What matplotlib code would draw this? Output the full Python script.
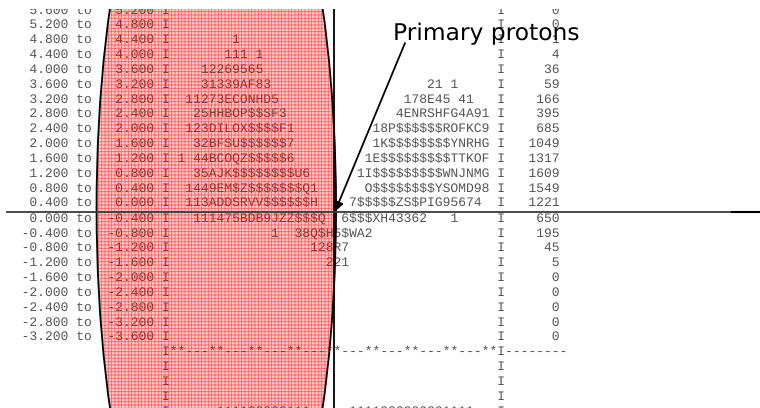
import matplotlib.pyplot as plt
from matplotlib.patches import Ellipse

plt.rcParams['hatch.linewidth'] = 0.6
plt.rcParams['text.parse_math'] = False
plt.rcParams['text.hinting'] = 'no_hinting'

# histogram printout: bin edges, character histogram (start column, text), counts
bin_from = [5.6, 5.2, 4.8, 4.4, 4.0, 3.6, 3.2, 2.8, 2.4, 2.0, 1.6, 1.2, 0.8, 0.4,
            0.0, -0.4, -0.8, -1.2, -1.6, -2.0, -2.4, -2.8, -3.2]
bin_to = [5.2, 4.8, 4.4, 4.0, 3.6, 3.2, 2.8, 2.4, 2.0, 1.6, 1.2, 0.8, 0.4, 0.0,
          -0.4, -0.8, -1.2, -1.6, -2.0, -2.4, -2.8, -3.2, -3.6]
counts = [0, 0, 1, 4, 36, 59, 166, 395, 685, 1049, 1317, 1609, 1549, 1221,
          650, 195, 45, 5, 0, 0, 0, 0, 0]
hist_rows = [
    [],
    [],
    [(8, "1")],
    [(7, "111 1")],
    [(4, "12269565")],
    [(4, "31339AF83"), (33, "21 1")],
    [(2, "11273ECONHD5"), (30, "178E45 41")],
    [(3, "25HHBOP$$SF3"), (29, "4ENRSHFG4A91")],
    [(2, "123DILOX$$$$F1"), (26, "18P$$$$$$ROFKC9")],
    [(3, "32BFSU$$$$$$7"), (26, "1K$$$$$$$$YNRHG")],
    [(1, "1 44BCOQZ$$$$$6"), (25, "1E$$$$$$$$$TTKOF")],
    [(3, "35AJK$$$$$$$$U6"), (24, "1I$$$$$$$$$WNJNMG")],
    [(2, "1449EM$Z$$$$$$$Q1"), (25, "O$$$$$$$$YSOMD98")],
    [(2, "113ADDSRVV$$$$$$H"), (23, "7$$$$$ZS$PIG95674")],
    [(3, "111475BDB9JZZ$$$Q"), (22, "6$$$XH43362   1")],
    [(13, "1  38Q$H5$WA2")],
    [(18, "128R7")],
    [(20, "221")],
    [], [], [], [], [],
]
next_block_row = [(6, "111122222111"), (23, "1111222222221111")]
label = "Primary protons"

WIDTH = 42


def fill(pairs):
    row = [" "] * WIDTH
    for col, txt in pairs:
        for i, ch in enumerate(txt):
            row[col + i] = ch
    return "".join(row)


lines = []
for lo, hi, h, c in zip(bin_from, bin_to, hist_rows, counts):
    lines.append(f"{lo:8.3f} to{hi:8.3f} I{fill(h)}I{c:7d}")
lines.append(" " * 20 + "I" + "**---" * 8 + "**" + "I" + "-" * 8)
for _ in range(3):
    lines.append(" " * 20 + "I" + " " * WIDTH + "I")
lines.append(" " * 20 + "I" + fill(next_block_row) + "I")

fig = plt.figure(figsize=(7.6, 4.08), dpi=100)

# the printout picture, clipped at its top edge
pic = fig.add_axes([0, 0, 1, 399.5 / 408])
pic.set_xlim(0, 760)
pic.set_ylim(408, 8.5)
pic.axis('off')

row_h = 14.857
for i, s in enumerate(lines):
    pic.text(6.4, 13.4 + i * row_h, s, family='Liberation Mono', fontsize=9.384,
             color='#555555', ha='left', va='baseline', clip_on=True, zorder=3)

pic.add_patch(Ellipse((216.3, 208), 239.5, 870, facecolor=(1, 0, 0, 0.2),
                      edgecolor=(1, 0, 0, 0.5), hatch='+++++', lw=0, zorder=4))
pic.add_patch(Ellipse((216.3, 208), 239.5, 870, fill=False,
                      edgecolor='black', lw=1.3, zorder=5))
pic.plot([334, 334], [0, 408], color='black', lw=1.3, zorder=6)

# overlay: axis line, arrow and label
ov = fig.add_axes([0, 0, 1, 1])
ov.set_xlim(0, 760)
ov.set_ylim(408, 0)
ov.axis('off')
ov.plot([6.5, 732], [211.5, 211.5], color='#3a3a3a', lw=1.3)
ov.plot([732, 760], [211.5, 211.5], color='black', lw=1.5)
ov.annotate('', xy=(335, 211.5), xytext=(405, 43),
            arrowprops=dict(arrowstyle='-|>', color='black', lw=1.3,
                            mutation_scale=14, shrinkA=0, shrinkB=0))
ov.text(393, 40.5, label, family='DejaVu Sans', fontsize=16.8,
        color='black', ha='left', va='baseline')

fig.savefig('out.png', dpi=100)
